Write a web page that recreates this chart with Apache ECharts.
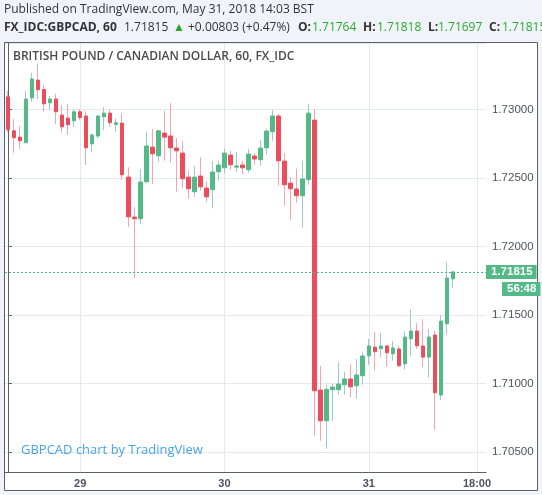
<!DOCTYPE html>
<html>
<head>
<meta charset="utf-8">
<script src="https://cdn.jsdelivr.net/npm/echarts@6/dist/echarts.min.js"></script>
<style>
  html, body { margin: 0; padding: 0; background: #f0f3fa; }
  #chart { width: 542px; height: 495px; }
</style>
</head>
<body>
<div id="chart"></div>
<script>
// hourly GBPCAD candles, first one is May 28 12:00
const opens = [1.73093, 1.72845, 1.72799, 1.72758, 1.73086, 1.73215, 1.73147, 1.73050, 1.73077, 1.72960,
  1.72938, 1.72918, 1.72984, 1.72953, 1.72750, 1.72807, 1.72947, 1.72974, 1.72892, 1.72901,
  1.72507, 1.72215, 1.72203, 1.72473, 1.72726, 1.72663, 1.72828, 1.72807, 1.72719, 1.72682,
  1.72507, 1.72400, 1.72515, 1.72427, 1.72415, 1.72546, 1.72575, 1.72668, 1.72580, 1.72595,
  1.72561, 1.72661, 1.72634, 1.72721, 1.72838, 1.72953, 1.72624, 1.72463, 1.72420, 1.72371,
  1.72488, 1.72923, 1.70952, 1.70728, 1.70955, 1.70955, 1.70991, 1.71033, 1.70984, 1.71057,
  1.71203, 1.71266, 1.71254, 1.71274, 1.71217, 1.71252, 1.71144, 1.71327, 1.71383, 1.71274,
  1.71193, 1.71354, 1.70916, 1.71436, 1.71764]
const closes = [1.72855, 1.72794, 1.72772, 1.73077, 1.73223, 1.73145, 1.73042, 1.73077, 1.72984, 1.72874,
  1.72889, 1.72984, 1.72943, 1.72721, 1.72814, 1.72953, 1.72974, 1.72904, 1.72904, 1.72524,
  1.72217, 1.72203, 1.72471, 1.72734, 1.72677, 1.72845, 1.72799, 1.72721, 1.72699, 1.72495,
  1.72422, 1.72507, 1.72436, 1.72363, 1.72544, 1.72595, 1.72682, 1.72597, 1.72588, 1.72575,
  1.72675, 1.72639, 1.72719, 1.72843, 1.72953, 1.72626, 1.72451, 1.72422, 1.72371, 1.72493,
  1.72974, 1.70947, 1.70728, 1.70957, 1.70974, 1.70996, 1.71033, 1.70976, 1.71062, 1.71201,
  1.71274, 1.71232, 1.71274, 1.71225, 1.71259, 1.71130, 1.71339, 1.71383, 1.71276, 1.71193,
  1.71339, 1.70933, 1.71456, 1.71770, 1.71815]
const lows = [1.72834, 1.72685, 1.72714, 1.72753, 1.73057, 1.73077, 1.72984, 1.72999, 1.72896, 1.72831,
  1.72816, 1.72874, 1.72923, 1.72595, 1.72692, 1.72790, 1.72850, 1.72874, 1.72838, 1.72490,
  1.72144, 1.71770, 1.72166, 1.72463, 1.72456, 1.72619, 1.72626, 1.72612, 1.72400, 1.72425,
  1.72349, 1.72363, 1.72407, 1.72327, 1.72279, 1.72480, 1.72534, 1.72561, 1.72546, 1.72527,
  1.72539, 1.72597, 1.72590, 1.72670, 1.72772, 1.72444, 1.72298, 1.72196, 1.72320, 1.72137,
  1.72451, 1.70619, 1.70582, 1.70524, 1.70728, 1.70918, 1.70918, 1.70903, 1.70889, 1.70991,
  1.71137, 1.71093, 1.71195, 1.71122, 1.71166, 1.71122, 1.71101, 1.71203, 1.71252, 1.71120,
  1.71042, 1.70660, 1.70879, 1.71356, 1.71697]
const highs = [1.73135, 1.72931, 1.72880, 1.73135, 1.73269, 1.73337, 1.73179, 1.73099, 1.73115, 1.73033,
  1.73040, 1.73001, 1.73004, 1.72989, 1.72826, 1.72960, 1.73018, 1.72999, 1.72933, 1.72974,
  1.72578, 1.72288, 1.72566, 1.72838, 1.72858, 1.72853, 1.72991, 1.73047, 1.72794, 1.72770,
  1.72558, 1.72588, 1.72653, 1.72473, 1.72624, 1.72624, 1.72714, 1.72699, 1.72690, 1.72624,
  1.72712, 1.72682, 1.72780, 1.72860, 1.72996, 1.72969, 1.72682, 1.72507, 1.72568, 1.72624,
  1.73042, 1.73001, 1.71130, 1.70991, 1.70998, 1.71157, 1.71084, 1.71142, 1.71179, 1.71225,
  1.71325, 1.71376, 1.71369, 1.71281, 1.71310, 1.71274, 1.71383, 1.71544, 1.71441, 1.71471,
  1.71398, 1.71383, 1.71500, 1.71887, 1.71818]

// x axis labels sit on these candle slots
const tickSlots = [12, 36, 60, 78]
const tickLabels = ['29', '30', '31', '18:00']

const up = '#53b987'
const down = '#eb4d5c'

let lastClose = closes[closes.length - 1]
let wickData = []
let bodyData = []
opens.forEach((o, i) => {
  let c = closes[i]
  wickData.push([i, o, c, lows[i], highs[i]])
  bodyData.push([i, o, c, Math.min(o, c), Math.max(o, c)])
})

// header line 2 pieces
const headParts = [
  { x: 4, text: 'FX_IDC:GBPCAD, 60', bold: true, color: '#333' },
  { x: 124, text: '1.71815', color: '#333' },
  { x: 173, text: '▲', color: '#26a626' },
  { x: 188, text: '+0.00803 (+0.47%)', color: '#333' },
  { x: 298, text: 'O:', bold: true, color: '#333' },
  { x: 312, text: '1.71764', color: '#2eaa2e' },
  { x: 363, text: 'H:', bold: true, color: '#333' },
  { x: 377, text: '1.71818', color: '#2eaa2e' },
  { x: 428, text: 'L:', bold: true, color: '#333' },
  { x: 438, text: '1.71697', color: '#2eaa2e' },
  { x: 489, text: 'C:', bold: true, color: '#333' },
  { x: 502, text: '1.71815', color: '#2eaa2e' }
]

const chart = echarts.init(document.getElementById('chart'), null, { renderer: 'canvas' })

let graphics = [
  {
    type: 'rect', z: -10, silent: true,
    shape: { x: 4.5, y: 42.5, width: 533, height: 448 },
    style: { fill: '#fff', stroke: '#5d606b', lineWidth: 1 }
  },
  {
    type: 'text', left: 4, top: 4, silent: true,
    style: { text: 'Published on TradingView.com, May 31, 2018 14:03 BST', font: '12px "Open Sans"', fill: '#333' }
  },
  {
    type: 'text', left: 13, top: 51, silent: true, z: 50,
    style: { text: 'BRITISH POUND / CANADIAN DOLLAR, 60, FX_IDC', font: '600 12px "Open Sans"', fill: '#4a4a4a' }
  },
  {
    type: 'text', left: 21, top: 444, silent: true, z: 50,
    style: { text: 'GBPCAD chart by TradingView', font: '13px "Open Sans"', fill: '#49a5e6' }
  }
]
headParts.forEach(p => {
  graphics.push({
    type: 'text', x: p.x, y: 22, silent: true,
    style: { text: p.text, font: (p.bold ? 'bold ' : '') + '12px "Open Sans"', fill: p.color }
  })
})

chart.setOption({
  backgroundColor: '#f0f3fa',
  animation: false,
  grid: { left: 5, right: 56, top: 43, bottom: 23 },
  xAxis: {
    type: 'value',
    min: -0.5,
    max: 79.5,
    axisLine: { show: true, onZero: false, lineStyle: { color: '#5d606b' } },
    axisTick: { show: false, customValues: tickSlots },
    axisLabel: {
      customValues: tickSlots,
      color: '#4c525e',
      fontSize: 11,
      fontFamily: 'Liberation Sans',
      fontWeight: 'bold',
      margin: 6,
      formatter: v => tickLabels[tickSlots.indexOf(Math.round(v))]
    },
    splitLine: { show: true, lineStyle: { color: '#e3e8ef' } }
  },
  yAxis: {
    type: 'value',
    position: 'right',
    scale: true,
    min: 1.70354,
    max: 1.73486,
    splitNumber: 6,
    axisLine: { show: true, lineStyle: { color: '#5d606b' } },
    axisTick: { show: true, length: 4, lineStyle: { color: '#5d606b' } },
    axisLabel: {
      color: '#4c525e',
      fontSize: 11.5,
      fontFamily: 'Liberation Sans',
      margin: 6,
      showMinLabel: false,
      showMaxLabel: false,
      formatter: v => v.toFixed(5)
    },
    splitLine: { show: true, lineStyle: { color: '#e3e8ef' } }
  },
  graphic: { elements: graphics },
  series: [
    {
      // thin wicks, lighter colour
      type: 'candlestick',
      silent: true,
      barWidth: 1,
      encode: { x: 0, y: [1, 2, 3, 4] },
      itemStyle: {
        color: '#9cc9c9', color0: '#f7a5ac',
        borderColor: '#9cc9c9', borderColor0: '#f7a5ac',
        borderWidth: 1
      },
      data: wickData
    },
    {
      // candle bodies
      type: 'candlestick',
      silent: true,
      barWidth: 4,
      encode: { x: 0, y: [1, 2, 3, 4] },
      itemStyle: {
        color: up, color0: down,
        borderColor: up, borderColor0: down,
        borderWidth: 1
      },
      data: bodyData,
      markLine: {
        silent: true,
        symbol: 'none',
        precision: 5,
        lineStyle: { color: up, type: [2, 2], width: 1 },
        label: {
          position: 'end',
          distance: 0,
          formatter: () => lastClose.toFixed(5),
          backgroundColor: up,
          color: '#fff',
          fontSize: 11.5,
          fontWeight: 'bold',
          fontFamily: 'Liberation Sans',
          padding: [1, 4, 1, 5]
        },
        data: [{ yAxis: lastClose }]
      }
    }
  ]
})

// countdown box under the price tag
let py = chart.convertToPixel({ yAxisIndex: 0 }, lastClose)
chart.setOption({
  graphic: {
    elements: [{
      id: 'countdown', type: 'text', silent: true, z: 60,
      x: 502, y: py + 10,
      style: {
        text: '56:48', font: 'bold 11.5px "Liberation Sans"', fill: '#fff',
        backgroundColor: up, padding: [1, 4, 1, 5]
      }
    }]
  }
})
</script>
</body>
</html>
